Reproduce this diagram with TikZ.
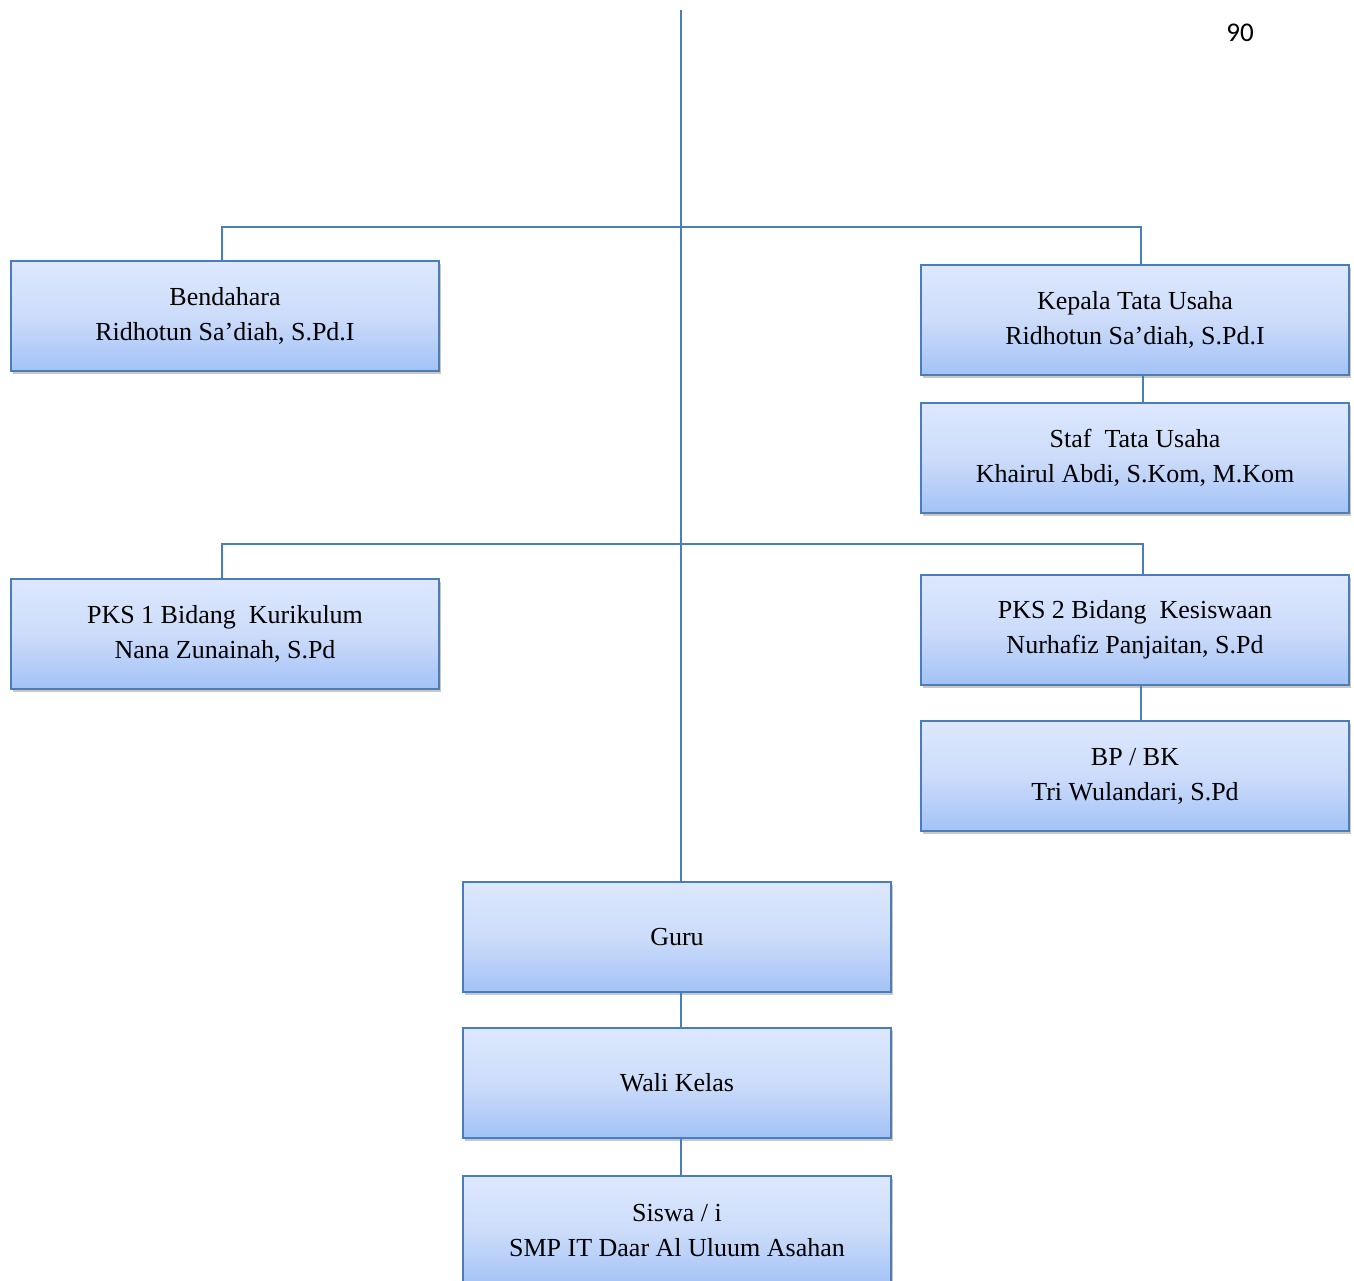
\documentclass[tikz,border=0pt]{standalone}
\usepackage{fontspec}
\setmainfont{Liberation Serif}
\newfontfamily\pagefont{Carlito}
\usetikzlibrary{shadows}
\definecolor{lineblue}{HTML}{4A7EBB}
\definecolor{boxtop}{HTML}{DDE8FD}
\definecolor{boxmid}{HTML}{CCDCFA}
\definecolor{boxbot}{HTML}{A3C2F6}
\tikzset{
  orgbox/.style={draw=lineblue, line width=1.6pt, top color=boxtop, bottom color=boxbot, middle color=boxmid,
    minimum width=428pt, minimum height=110pt, inner sep=0pt, align=center,
    font=\fontsize{26}{35}\selectfont,
    drop shadow={shadow xshift=1.5pt, shadow yshift=-3pt, opacity=0.3, fill=black!70}},
  conn/.style={draw=lineblue, line width=1.8pt}
}
\begin{document}
\begin{tikzpicture}[x=1pt,y=-1pt]
\useasboundingbox (0,0) rectangle (1354,1281);
\clip (0,0) rectangle (1354,1281);
\fill[white] (0,0) rectangle (1354,1281);

\node[font=\pagefont\fontsize{27}{30}\selectfont] (page) at (1240,33) {90};

\node[orgbox] (bend) at (225,316) {Bendahara\\Ridhotun Sa’diah, S.Pd.I};
\node[orgbox] (kepala) at (1135,320) {Kepala Tata Usaha\\Ridhotun Sa’diah, S.Pd.I};
\node[orgbox] (staf) at (1135,458) {Staf\ \ Tata Usaha\\Khairul Abdi, S.Kom, M.Kom};
\node[orgbox] (pks1) at (225,634) {PKS 1 Bidang\ \ Kurikulum\\Nana Zunainah, S.Pd};
\node[orgbox] (pks2) at (1135,630) {PKS 2 Bidang\ \ Kesiswaan\\Nurhafiz Panjaitan, S.Pd};
\node[orgbox] (bpbk) at (1135,776) {BP / BK\\Tri Wulandari, S.Pd};
\node[orgbox] (guru) at (677,937) {Guru};
\node[orgbox] (wali) at (677,1083) {Wali Kelas};
\node[orgbox] (siswa) at (677,1231) {Siswa / i\\SMP IT Daar Al Uluum Asahan};

\coordinate (top) at (681,10);
\coordinate (h1L) at (222,227);
\coordinate (h1R) at (1141,227);
\coordinate (h2L) at (222,544);
\coordinate (h2R) at (1143,544);
\coordinate (tu) at (1143,390);
\coordinate (bp) at (1141,700);

\draw[conn] (top) -- (top |- guru.north);
\draw[conn] (bend.north -| h1L) -- (h1L) -- (h1R) -- (kepala.north -| h1R);
\draw[conn] (pks1.north -| h2L) -- (h2L) -- (h2R) -- (pks2.north -| h2R);
\draw[conn] (kepala.south -| tu) -- (staf.north -| tu);
\draw[conn] (pks2.south -| bp) -- (bpbk.north -| bp);
\draw[conn] (guru.south -| top) -- (wali.north -| top);
\draw[conn] (wali.south -| top) -- (siswa.north -| top);
\end{tikzpicture}
\end{document}
